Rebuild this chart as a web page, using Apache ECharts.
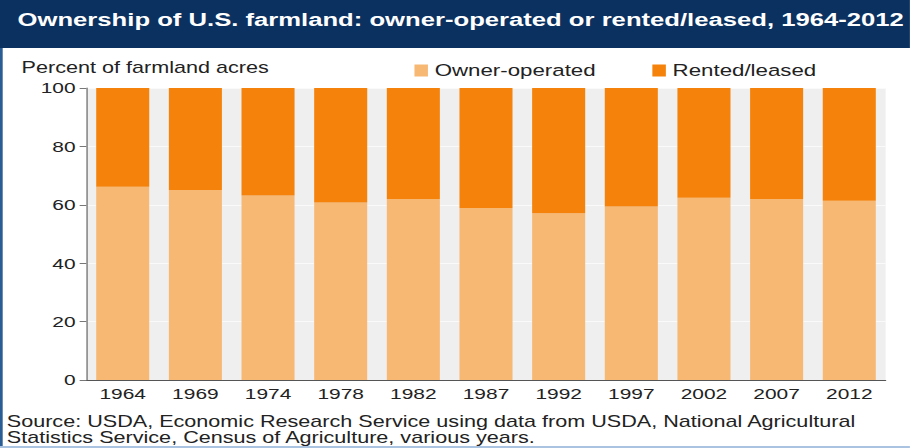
<!DOCTYPE html>
<html>
<head>
<meta charset="utf-8">
<script src="https://cdn.jsdelivr.net/npm/echarts@6/dist/echarts.min.js"></script>
<style>
  html, body { margin: 0; padding: 0; background: #fff; overflow: hidden; }
  /* the source picture is stretched sideways, so draw narrow and stretch */
  #main { width: 674px; height: 448px; transform: scaleX(1.35); transform-origin: 0 0; }
</style>
</head>
<body>
<div id="main"></div>
<script>
// Ownership of U.S. farmland (percent of farmland acres)
const years = ['1964', '1969', '1974', '1978', '1982', '1987', '1992', '1997', '2002', '2007', '2012']
const ownerOperated = [66.2, 65.1, 63.2, 60.8, 62.0, 58.9, 57.1, 59.4, 62.4, 62.0, 61.4]
const rentedLeased = ownerOperated.map(v => +(100 - v).toFixed(1))
const yTicks = [0, 20, 40, 60, 80, 100]

const font = 'Liberation Sans, Arial, sans-serif'
const light = '#f7b874'
const dark = '#f5820a'

let myChart = echarts.init(document.getElementById('main'), null, { renderer: 'svg' })
let options = {
  backgroundColor: '#fff',
  animation: false,
  title: {
    text: 'Ownership of U.S. farmland: owner-operated or rented/leased, 1964-2012',
    left: 8,
    top: 5,
    textStyle: { color: '#fff', fontWeight: 'bold', fontSize: 19, fontFamily: font }
  },
  graphic: [
    { type: 'rect', z: -1, shape: { x: 0, y: 0, width: 674, height: 48 }, style: { fill: '#0b3161' } },
    { type: 'rect', z: -1, shape: { x: 0, y: 48, width: 2, height: 400 }, style: { fill: '#2b5d95' } },
    { type: 'rect', z: -1, shape: { x: 0, y: 446, width: 674, height: 2 }, style: { fill: '#a9c3e0' } },
    {
      type: 'text', left: 16, top: 60,
      style: { text: 'Percent of farmland acres', fill: '#222', font: '16px ' + font }
    },
    {
      type: 'text', left: 5, top: 414,
      style: {
        text: 'Source: USDA, Economic Research Service using data from USDA, National Agricultural\nStatistics Service, Census of Agriculture, various years.',
        fill: '#222', font: '16px ' + font, lineHeight: 16
      }
    }
  ],
  legend: {
    left: 302,
    top: 57,
    itemWidth: 10,
    itemHeight: 12,
    itemGap: 42,
    icon: 'rect',
    textStyle: { color: '#222', fontSize: 16.5, fontFamily: font },
    data: ['Owner-operated', 'Rented/leased']
  },
  grid: {
    left: 64, right: 18, top: 88, bottom: 68,
    show: true, backgroundColor: '#efefef', borderWidth: 0
  },
  xAxis: {
    type: 'category',
    data: years,
    axisLine: { show: true, lineStyle: { color: '#555', width: 1 } },
    axisTick: { show: false },
    axisLabel: { color: '#222', fontSize: 15.5, fontFamily: font, margin: 6 }
  },
  yAxis: {
    type: 'value',
    min: yTicks[0],
    max: yTicks[yTicks.length - 1],
    interval: 20,
    axisLine: { show: true, lineStyle: { color: '#777', width: 1 } },
    axisTick: { show: true, length: 5, lineStyle: { color: '#777' } },
    axisLabel: { color: '#222', fontSize: 15.5, fontFamily: font, margin: 8 },
    splitLine: { show: true, lineStyle: { color: '#fafafa', width: 1 } }
  },
  series: [{
    name: 'Owner-operated',
    type: 'bar',
    stack: 'total',
    barCategoryGap: '27%',
    itemStyle: { color: light },
    data: ownerOperated
  }, {
    name: 'Rented/leased',
    type: 'bar',
    stack: 'total',
    itemStyle: { color: dark },
    data: rentedLeased
  }]
}
myChart.setOption(options)
</script>
</body>
</html>
